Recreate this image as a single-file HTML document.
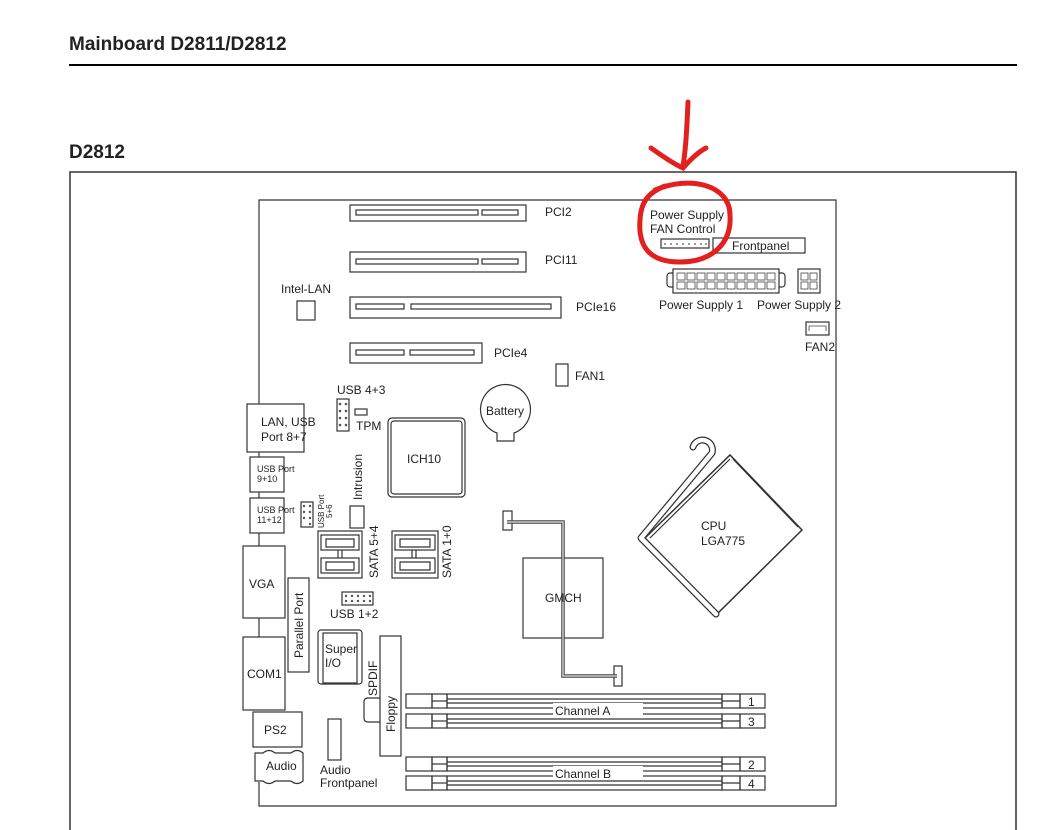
<!DOCTYPE html>
<html><head><meta charset="utf-8"><style>
html,body{margin:0;padding:0;background:#fff;width:1056px;height:830px;overflow:hidden}
svg{display:block}
text{font-family:"Liberation Sans",sans-serif;fill:#222}
</style></head><body>
<svg width="1056" height="830" viewBox="0 0 1056 830" xmlns="http://www.w3.org/2000/svg">
<text x="69" y="50" font-size="19" font-weight="bold" fill="#000">Mainboard  D2811/D2812</text>
<line x1="69" y1="65" x2="1017" y2="65" stroke="#000" stroke-width="2"/>
<text x="69" y="158" font-size="19" font-weight="bold" fill="#000">D2812</text>
<rect x="70" y="172" width="946" height="670" fill="none" stroke="#333" stroke-width="1.5"/>

<g fill="none" stroke="#333" stroke-width="1.2">
<path d="M259 404 V200 H836 V806 H259 V782"/>
<rect x="350" y="205" width="176" height="16"/>
<rect x="356" y="210" width="122" height="5"/><rect x="482" y="210" width="36" height="5"/>
<rect x="350" y="252" width="176" height="20"/>
<rect x="356" y="259" width="122" height="5"/><rect x="482" y="259" width="36" height="5"/>
<rect x="350" y="297" width="211" height="21"/>
<rect x="356" y="304" width="48" height="5"/><rect x="411" y="304" width="140" height="5"/>
<rect x="350" y="343" width="132" height="20"/>
<rect x="356" y="350" width="48" height="5"/><rect x="410" y="350" width="64" height="5"/>
<rect x="297" y="301" width="18" height="19"/>
<rect x="661" y="239" width="48" height="9"/>
<rect x="713" y="238" width="92" height="15"/>
<rect x="667" y="273" width="118" height="14" rx="3"/>
<rect x="673" y="269" width="106" height="24" fill="#fff"/>
<rect x="798" y="269" width="22" height="24"/>
<rect x="806" y="322" width="23" height="13"/>
<rect x="556" y="364" width="12" height="22"/>
<path d="M497 433 A25 25 0 1 1 514 433 V441 H497 Z"/>
<rect x="337" y="399" width="12" height="32"/>
<rect x="355" y="409" width="12" height="6"/>
<rect x="388" y="418" width="77" height="79" rx="4"/>
<rect x="391" y="421" width="71" height="73" rx="3"/>
<rect x="247" y="404" width="57" height="48"/>
<line x1="259" y1="452" x2="259" y2="457"/>
<rect x="250" y="457" width="34" height="35"/>
<line x1="259" y1="492" x2="259" y2="498"/>
<rect x="250" y="498" width="34" height="35"/>
<line x1="259" y1="533" x2="259" y2="546"/>
<rect x="301" y="502" width="12" height="25"/>
<rect x="350" y="506" width="14" height="22"/>
<rect x="318" y="531" width="44" height="47"/>
<rect x="321" y="535" width="38" height="15"/><rect x="321" y="558" width="38" height="15"/>
<path d="M326 539 h28 v8 h-28z M326 562 h28 v8 h-28z"/>
<line x1="338" y1="550" x2="338" y2="558"/><line x1="342" y1="550" x2="342" y2="558"/>
<rect x="392" y="531" width="46" height="47"/>
<rect x="395" y="535" width="40" height="15"/><rect x="395" y="558" width="40" height="15"/>
<path d="M400 539 h30 v8 h-30z M400 562 h30 v8 h-30z"/>
<line x1="412" y1="550" x2="412" y2="558"/><line x1="416" y1="550" x2="416" y2="558"/>
<rect x="243" y="546" width="42" height="72"/>
<line x1="259" y1="618" x2="259" y2="637"/>
<rect x="288" y="578" width="21" height="94"/>
<rect x="243" y="637" width="42" height="73"/>
<rect x="253" y="712" width="49" height="35"/>
<path d="M255 753 h8 q6 -5 12 0 h16 q6 -5 12 0 v28 q-6 5 -12 0 h-16 q-6 5 -12 0 h-8z"/>
<rect x="342" y="592" width="31" height="13"/>
<rect x="318" y="630" width="44" height="54" rx="3"/>
<rect x="323" y="633" width="34" height="50"/>
<path d="M380 698 h-12 q-4 0 -4 4 v16 q0 4 4 4 h12"/>
<rect x="380" y="636" width="21" height="120"/>
<rect x="328" y="719" width="13" height="41"/>
<rect x="523" y="558" width="80" height="80"/>
<rect x="503" y="511" width="9" height="19"/>
<rect x="614" y="666" width="8" height="20"/>
<path d="M507 522 H563 V676 H617" stroke-width="3.5" stroke="#444"/>
<path d="M507 522 H563 V676 H617" stroke-width="1.5" stroke="#ccc"/>
<path d="M645 538 L730 455 L802 530 L718 613 Z" stroke-width="1.5"/>
<path d="M650 538 L730 459"/><path d="M733 459 L798 527"/>
<path d="M716 614 L641 538 L712 453 A9 9 0 1 0 693 447" stroke-width="7" stroke="#333" stroke-linecap="round" stroke-linejoin="round"/>
<path d="M716 614 L641 538 L712 453 A9 9 0 1 0 693 447" stroke-width="4.5" stroke="#fff" stroke-linecap="round" stroke-linejoin="round"/>
<g id="d">
<rect x="406" y="694" width="26" height="14"/><rect x="432" y="694" width="15" height="14"/>
<rect x="447" y="694" width="275" height="14"/><rect x="722" y="694" width="18" height="14"/>
<rect x="740" y="694" width="25" height="14"/>
<line x1="447" y1="699" x2="722" y2="699"/><line x1="447" y1="703" x2="722" y2="703"/>
<line x1="432" y1="701" x2="447" y2="701"/><line x1="722" y1="701" x2="740" y2="701"/>
</g>
<use href="#d" y="20"/><use href="#d" y="63"/><use href="#d" y="82"/>
</g>
<g fill="#555">
<circle cx="665" cy="244" r="0.9"/><circle cx="671" cy="244" r="0.9"/><circle cx="677" cy="244" r="0.9"/><circle cx="683" cy="244" r="0.9"/><circle cx="689" cy="244" r="0.9"/><circle cx="695" cy="244" r="0.9"/><circle cx="701" cy="244" r="0.9"/><circle cx="706" cy="244" r="0.9"/>
<circle cx="340" cy="404" r="1.3"/><circle cx="346" cy="404" r="1.3"/><circle cx="340" cy="411" r="1.3"/><circle cx="346" cy="411" r="1.3"/><circle cx="340" cy="418" r="1.3"/><circle cx="346" cy="418" r="1.3"/><circle cx="340" cy="425" r="1.3"/><circle cx="346" cy="425" r="1.3"/>
<circle cx="304" cy="506" r="1.2"/><circle cx="310" cy="506" r="1.2"/><circle cx="304" cy="512" r="1.2"/><circle cx="310" cy="512" r="1.2"/><circle cx="304" cy="518" r="1.2"/><circle cx="310" cy="518" r="1.2"/><circle cx="310" cy="524" r="1.2"/>
<circle cx="346" cy="596" r="1.2"/><circle cx="352" cy="596" r="1.2"/><circle cx="358" cy="596" r="1.2"/><circle cx="364" cy="596" r="1.2"/><circle cx="370" cy="596" r="1.2"/><circle cx="346" cy="601" r="1.2"/><circle cx="352" cy="601" r="1.2"/><circle cx="358" cy="601" r="1.2"/><circle cx="364" cy="601" r="1.2"/><circle cx="370" cy="601" r="1.2"/>
</g>
<g fill="none" stroke="#444" stroke-width="0.8">
<rect x="677" y="273" width="8" height="7"/><rect x="687" y="273" width="8" height="7"/><rect x="697" y="273" width="8" height="7"/><rect x="707" y="273" width="8" height="7"/><rect x="717" y="273" width="8" height="7"/><rect x="727" y="273" width="8" height="7"/><rect x="737" y="273" width="8" height="7"/><rect x="747" y="273" width="8" height="7"/><rect x="757" y="273" width="8" height="7"/><rect x="767" y="273" width="8" height="7"/>
<rect x="677" y="282" width="8" height="7"/><rect x="687" y="282" width="8" height="7"/><rect x="697" y="282" width="8" height="7"/><rect x="707" y="282" width="8" height="7"/><rect x="717" y="282" width="8" height="7"/><rect x="727" y="282" width="8" height="7"/><rect x="737" y="282" width="8" height="7"/><rect x="747" y="282" width="8" height="7"/><rect x="757" y="282" width="8" height="7"/><rect x="767" y="282" width="8" height="7"/>
<rect x="801" y="273" width="7" height="7"/><rect x="810" y="273" width="7" height="7"/><rect x="801" y="282" width="7" height="7"/><rect x="810" y="282" width="7" height="7"/>
<path d="M809 326 h17 M809 326 v5 M826 326 v5"/>
</g>

<g font-size="12">
<text x="545" y="216">PCI2</text>
<text x="545" y="264">PCI11</text>
<text x="576" y="311">PCIe16</text>
<text x="494" y="357">PCIe4</text>
<text x="281" y="293">Intel-LAN</text>
<text x="650" y="219">Power Supply</text>
<text x="650" y="233">FAN Control</text>
<text x="732" y="250">Frontpanel</text>
<text x="659" y="309">Power Supply 1</text>
<text x="757" y="309">Power Supply 2</text>
<text x="805" y="351">FAN2</text>
<text x="575" y="380">FAN1</text>
<text x="486" y="415">Battery</text>
<text x="337" y="394">USB 4+3</text>
<text x="356" y="430">TPM</text>
<text x="407" y="463">ICH10</text>
<text x="261" y="426">LAN, USB</text>
<text x="261" y="441">Port 8+7</text>
<text x="701" y="530">CPU</text>
<text x="701" y="545">LGA775</text>
<text x="545" y="602">GMCH</text>
<text x="249" y="588">VGA</text>
<text x="247" y="678">COM1</text>
<text x="264" y="734">PS2</text>
<text x="266" y="770">Audio</text>
<text x="330" y="618">USB 1+2</text>
<text x="325" y="653">Super</text>
<text x="325" y="667">I/O</text>
<text x="320" y="774">Audio</text>
<text x="320" y="787">Frontpanel</text>
</g>
<g font-size="9">
<text x="257" y="472">USB Port</text><text x="257" y="482">9+10</text>
<text x="257" y="513">USB Port</text><text x="257" y="523">11+12</text>
</g>
<g font-size="12">
<text transform="translate(362,500) rotate(-90)">Intrusion</text>
<text transform="translate(378,578) rotate(-90)">SATA  5+4</text>
<text transform="translate(451,578) rotate(-90)">SATA 1+0</text>
<text transform="translate(303,658) rotate(-90)">Parallel Port</text>
<text transform="translate(377,696) rotate(-90)">SPDIF</text>
<text transform="translate(395,732) rotate(-90)">Floppy</text>
<rect x="553" y="703" width="90" height="14" fill="#fff"/>
<text x="555" y="715">Channel A</text>
<rect x="553" y="766" width="90" height="14" fill="#fff"/>
<text x="555" y="778">Channel B</text>
<text x="748" y="706">1</text><text x="748" y="726">3</text>
<text x="748" y="769">2</text><text x="748" y="788">4</text>
</g>
<g font-size="8"><text transform="translate(324,528) rotate(-90)">USB Port</text><text transform="translate(332,518) rotate(-90)">5+6</text></g>

<g fill="none" stroke="#e32020" stroke-width="5" stroke-linecap="round">
<path d="M655 190 C690 175 730 185 730 215 C732 245 710 262 680 262 C648 262 638 245 640 220 C641 200 650 192 665 186"/>
<path d="M688 102 C687 125 686 148 683 166"/>
<path d="M651 148 C665 158 676 165 683 168 C690 160 698 152 706 148"/>
</g>
</svg>
</body></html>
